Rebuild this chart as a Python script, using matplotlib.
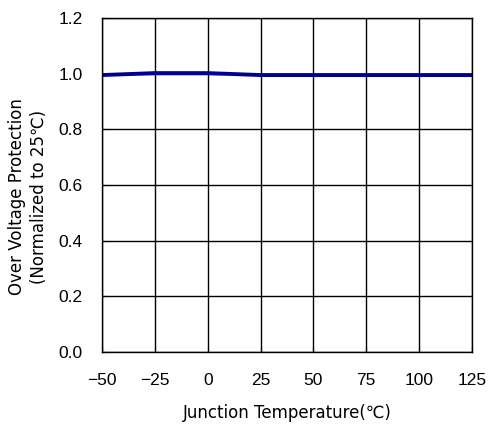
import numpy as np
import matplotlib

matplotlib.use('Agg')
import matplotlib.pyplot as plt

temps = [-50, -25, 0, 25, 50, 75, 100, 125]
ovp_norm = [0.995, 1.002, 1.002, 0.995, 0.995, 0.995, 0.995, 0.995]

x_ticks = [-50, -25, 0, 25, 50, 75, 100, 125]
x_labels = ['\u221250', '\u221225', '0', '25', '50', '75', '100', '125']
y_ticks = [0.0, 0.2, 0.4, 0.6, 0.8, 1.0, 1.2]

plt.rcParams['font.family'] = ['Liberation Sans', 'DejaVu Sans']

fig = plt.figure(figsize=(4.88, 4.26), dpi=100)
ax = fig.add_axes([102 / 488, 1 - 352 / 426, 370 / 488, 334 / 426])

ax.plot(temps, ovp_norm, color='#000090', lw=2.8)

ax.set_xlim(-50, 125)
ax.set_ylim(0, 1.2)
ax.set_xticks(x_ticks)
ax.set_xticklabels(x_labels)
ax.set_yticks(y_ticks)
ax.set_yticklabels(['%.1f' % v for v in y_ticks])
ax.grid(True, color='black', lw=1.0)
ax.tick_params(direction='in', length=4, labelsize=12.5, colors='black')
ax.tick_params(axis='x', pad=15)
ax.tick_params(axis='y', pad=14)
for s in ax.spines.values():
    s.set_linewidth(1.0)

ax.set_xlabel('Junction Temperature(\u2103)', fontsize=12, family='DejaVu Sans',
              labelpad=12)
fig.text(28 / 488, 1 - 197 / 426,
         'Over Voltage Protection\n(Normalized to 25\u2103)',
         rotation=90, ha='center', va='center', fontsize=12,
         family='DejaVu Sans', linespacing=1.3)

fig.savefig('out.png', dpi=100)
